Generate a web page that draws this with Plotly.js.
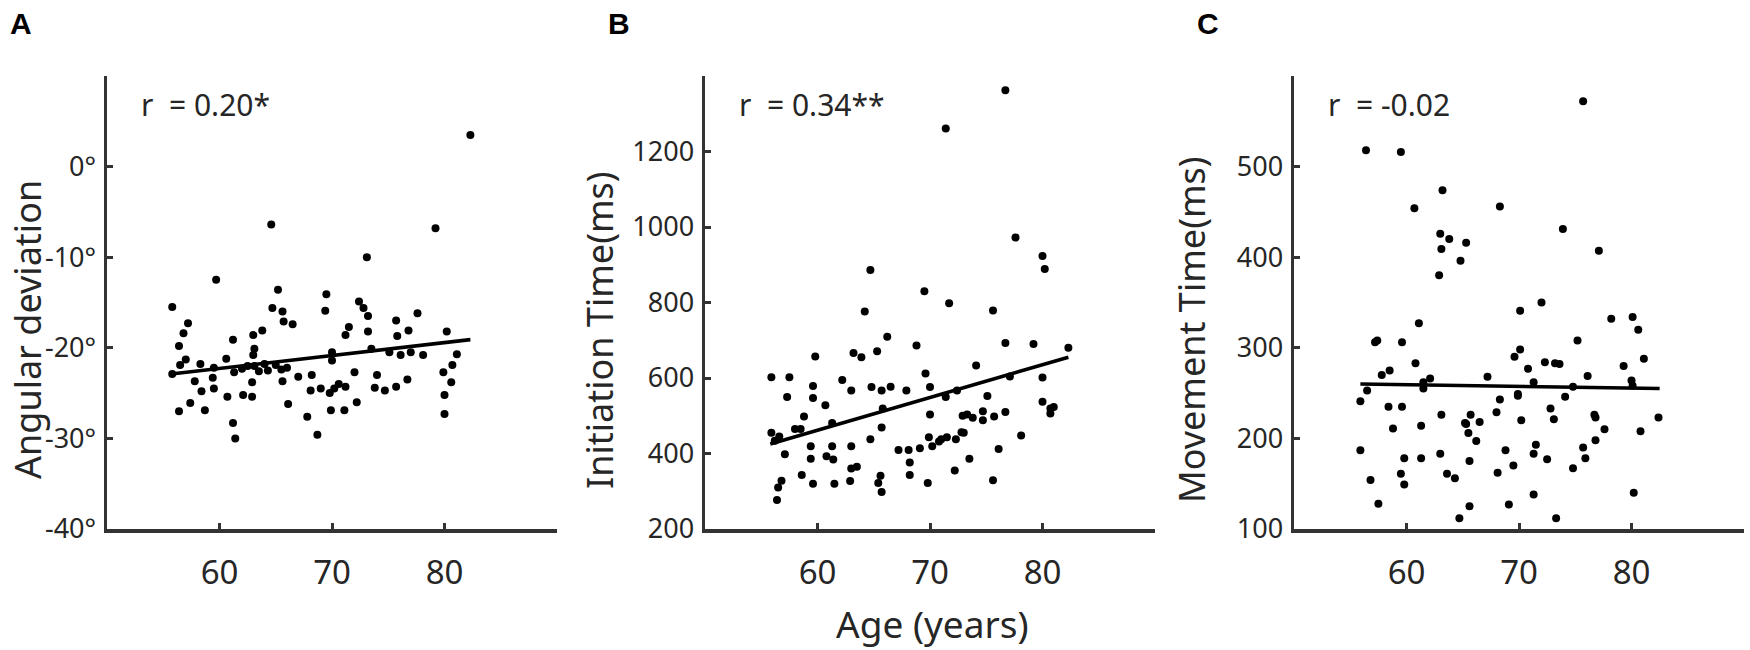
<!DOCTYPE html>
<html>
<head>
<meta charset="utf-8">
<script src="https://cdn.plot.ly/plotly-3.0.1.min.js"></script>
<style>
  html, body { margin: 0; padding: 0; background: #ffffff; }
  #chart { width: 1750px; height: 650px; }
</style>
</head>
<body>
<div id="chart"></div>
<script>
// Panel A: age vs angular deviation (degrees)
const ageA = [55.8, 55.8, 56.4, 56.4, 56.5, 56.8, 57.0, 57.2, 57.4, 57.8, 58.3, 58.4, 58.7, 59.4, 59.5,
  59.5, 59.7, 60.6, 60.7, 61.2, 61.2, 61.3, 61.4, 62.0, 62.1, 62.5, 62.9, 62.9, 63.0, 63.0,
  63.1, 63.1, 63.5, 63.8, 64.0, 64.3, 64.6, 64.7, 65.0, 65.2, 65.5, 65.6, 65.6, 65.7, 66.0,
  66.1, 66.5, 67.0, 67.8, 68.1, 68.2, 68.7, 69.0, 69.4, 69.5, 69.8, 69.9, 70.0, 70.0, 70.2,
  70.6, 71.1, 71.2, 71.2, 71.5, 72.0, 72.2, 72.4, 72.8, 73.1, 73.2, 73.2, 73.5, 73.8, 74.0,
  74.7, 75.1, 75.7, 75.7, 75.8, 76.1, 76.7, 76.8, 77.0, 77.6, 78.1, 79.2, 79.9, 80.0, 80.0,
  80.2, 80.6, 80.7, 81.1, 82.3];
const devA = [-15.5, -22.9, -19.8, -27.0, -21.9, -18.4, -21.3, -17.3, -26.1, -23.7, -21.8, -24.8, -26.9, -23.3, -22.2,
  -24.5, -12.5, -21.2, -25.4, -19.1, -28.3, -22.7, -30.0, -22.3, -25.2, -22.0, -23.8, -25.4, -18.6, -20.8,
  -20.1, -22.0, -22.6, -18.1, -21.8, -22.5, -6.4, -15.6, -21.9, -13.6, -22.4, -16.0, -23.7, -17.1, -22.2,
  -26.2, -17.4, -23.2, -27.6, -24.7, -23.0, -29.6, -24.5, -15.9, -14.1, -25.0, -26.9, -20.5, -21.4, -24.5,
  -24.0, -26.9, -24.3, -18.6, -17.7, -22.7, -26.0, -14.9, -15.6, -10.0, -16.5, -18.2, -20.1, -24.4, -23.0,
  -24.7, -20.5, -17.0, -24.3, -18.7, -20.8, -23.5, -18.1, -20.5, -16.2, -20.8, -6.8, -22.7, -25.2, -27.3,
  -18.2, -23.8, -21.9, -20.7, 3.5];
const fitAgeA = [55.7, 82.3];
const fitDevA = [-22.9, -19.1];

// Panel B: age vs initiation time (ms)
const ageB = [55.9, 57.5, 57.3, 55.9, 56.6, 56.2, 57.1, 56.8, 56.5, 56.4, 58.0, 58.5, 58.8, 58.6, 59.8,
  59.6, 59.6, 59.4, 59.4, 59.6, 60.7, 61.3, 61.3, 60.8, 61.4, 61.5, 62.2, 63.0, 63.2, 63.9,
  64.2, 64.7, 64.8, 64.7, 63.0, 63.0, 63.5, 62.9, 65.3, 66.2, 65.7, 66.5, 65.8, 65.7, 65.6,
  65.4, 65.7, 67.2, 67.9, 68.1, 68.2, 68.2, 68.8, 69.1, 69.5, 69.6, 70.0, 70.0, 69.9, 70.2,
  69.8, 70.8, 71.0, 71.5, 71.4, 71.4, 71.7, 72.2, 72.4, 72.3, 72.8, 72.9, 73.0, 73.3, 73.8,
  74.1, 73.5, 74.7, 74.7, 75.1, 75.6, 75.7, 75.6, 76.1, 76.7, 76.7, 76.7, 77.1, 77.6, 78.1,
  79.2, 80.0, 80.0, 80.0, 80.2, 80.7, 80.7, 81.0, 82.3];
const initB = [602, 602, 550, 455, 445, 434, 398, 328, 310, 277, 465, 465, 498, 343, 657,
  579, 547, 419, 386, 320, 528, 481, 419, 393, 384, 320, 595, 567, 666, 655,
  776, 886, 576, 438, 419, 360, 365, 327, 671, 709, 567, 577, 519, 469, 341,
  322, 298, 409, 567, 409, 376, 343, 686, 414, 830, 612, 576, 503, 443, 419,
  322, 432, 438, 443, 550, 1261, 798, 355, 567, 438, 456, 500, 455, 503, 495,
  633, 386, 512, 488, 552, 779, 498, 329, 412, 1362, 693, 510, 604, 972, 448,
  690, 923, 601, 537, 889, 519, 506, 523, 680];
const fitAgeB = [55.8, 82.3];
const fitInitB = [425, 655];

// Panel C: age vs movement time (ms)
const ageC = [56.4, 59.5, 60.7, 63.2, 63.0, 63.8, 65.3, 63.1, 64.8, 62.9, 61.1, 57.2, 57.4, 59.6, 60.8,
  58.5, 57.8, 56.5, 55.9, 61.5, 62.1, 61.5, 58.4, 59.6, 63.1, 58.8, 61.3, 65.3, 65.5, 55.9,
  59.8, 61.3, 63.0, 65.6, 56.8, 59.5, 59.8, 63.6, 64.3, 57.5, 64.7, 65.6, 75.7, 68.3, 73.9,
  77.1, 72.0, 70.1, 78.2, 80.1, 80.6, 75.2, 70.1, 69.6, 70.8, 72.3, 73.2, 73.6, 81.1, 79.3,
  67.2, 76.1, 71.3, 80.0, 80.1, 74.8, 69.9, 69.9, 68.3, 74.1, 72.8, 68.0, 65.7, 65.2, 66.5,
  66.2, 70.2, 73.1, 76.7, 76.8, 77.6, 82.4, 80.8, 76.8, 68.8, 71.5, 71.3, 72.5, 75.7, 75.9,
  74.8, 68.1, 69.5, 71.3, 80.2, 69.1, 73.3];
const moveC = [518, 516, 454, 474, 426, 420, 416, 409, 396, 380, 327, 306, 308, 306, 283,
  275, 270, 253, 241, 262, 266, 255, 235, 235, 226, 211, 214, 216, 206, 187,
  178, 178, 183, 175, 154, 161, 149, 161, 156, 128, 112, 125, 572, 456, 431,
  407, 350, 341, 332, 334, 320, 308, 298, 290, 277, 284, 283, 282, 288, 280,
  268, 269, 262, 264, 258, 257, 249, 247, 243, 246, 233, 229, 226, 217, 218,
  197, 220, 221, 226, 223, 210, 223, 208, 198, 187, 193, 183, 177, 190, 178,
  167, 162, 170, 138, 140, 127, 112];
const fitAgeC = [55.9, 82.5];
const fitMoveC = [260, 255];

// Axis ticks
const ageTicks = [60, 70, 80];
const devTicks = [-40, -30, -20, -10, 0];
const devTickText = ["-40°", "-30°", "-20°", "-10°", "0°"];
const initTicks = [200, 400, 600, 800, 1000, 1200];
const moveTicks = [100, 200, 300, 400, 500];

const FONT = "Noto Sans, Open Sans, sans-serif";
const TEXT = "#262626";
const AXIS = "#333333";
const Y_DOMAIN = [1 - 529 / 650, 1 - 76 / 650];

function px(x) { return x / 1750; }

function scatterTrace(x, y, axis) {
  return {
    type: "scatter", mode: "markers", x, y,
    xaxis: "x" + axis, yaxis: "y" + axis,
    marker: { color: "#000000", size: 8 },
    hoverinfo: "skip",
  };
}

function fitTrace(x, y, axis) {
  return {
    type: "scatter", mode: "lines", x, y,
    xaxis: "x" + axis, yaxis: "y" + axis,
    line: { color: "#000000", width: 3.6 },
    hoverinfo: "skip",
  };
}

function xAxis(left, anchor) {
  return {
    domain: [px(left), px(left + 450)],
    anchor,
    range: [50, 90],
    tickvals: ageTicks,
    ticks: "inside", ticklen: 6, tickwidth: 3, tickcolor: AXIS,
    showline: true, linewidth: 3.5, linecolor: AXIS,
    showgrid: false, zeroline: false,
    tickfont: { family: FONT, size: 33, color: TEXT },
    ticklabelstandoff: 12,
  };
}

function yAxis(range, tickvals, ticktext, anchor) {
  const ax = {
    domain: Y_DOMAIN,
    anchor,
    range,
    tickvals,
    ticks: "inside", ticklen: 6, tickwidth: 3, tickcolor: AXIS,
    showline: true, linewidth: 3.5, linecolor: AXIS,
    showgrid: false, zeroline: false,
    tickfont: { family: FONT, size: 27, color: TEXT },
    ticklabelstandoff: 2,
  };
  if (ticktext) ax.ticktext = ticktext;
  return ax;
}

function panelLetter(text, left) {
  return {
    text, xref: "paper", yref: "paper",
    x: px(left), y: 1 - 5 / 650, xanchor: "left", yanchor: "top",
    showarrow: false,
    font: { family: "Liberation Sans, Arial, sans-serif", size: 30, color: "#000000", weight: "bold" },
  };
}

function rLabel(text, axis) {
  return {
    text, xref: "x" + axis + " domain", yref: "y" + axis + " domain",
    x: 0.071, y: 0.936, xanchor: "left", yanchor: "middle",
    showarrow: false,
    font: { family: FONT, size: 30, color: TEXT },
  };
}

function yTitle(text, centerX) {
  return {
    text, xref: "paper", yref: "paper",
    x: px(centerX), y: 1 - 330 / 650, xanchor: "center", yanchor: "middle",
    textangle: -90, showarrow: false,
    font: { family: FONT, size: 36, color: TEXT },
  };
}

const data = [
  scatterTrace(ageA, devA, ""),
  fitTrace(fitAgeA, fitDevA, ""),
  scatterTrace(ageB, initB, "2"),
  fitTrace(fitAgeB, fitInitB, "2"),
  scatterTrace(ageC, moveC, "3"),
  fitTrace(fitAgeC, fitMoveC, "3"),
];

const layout = {
  width: 1750, height: 650,
  margin: { l: 0, r: 0, t: 0, b: 0 },
  paper_bgcolor: "#ffffff", plot_bgcolor: "#ffffff",
  showlegend: false,
  xaxis: xAxis(107, "y"),
  yaxis: yAxis([-40, 10], devTicks, devTickText, "x"),
  xaxis2: xAxis(705, "y2"),
  yaxis2: yAxis([200, 1400], initTicks, null, "x2"),
  xaxis3: xAxis(1294, "y3"),
  yaxis3: yAxis([100, 600], moveTicks, null, "x3"),
  annotations: [
    panelLetter("A", 8),
    panelLetter("B", 606),
    panelLetter("C", 1195),
    rLabel("r\u00a0 = 0.20*", ""),
    rLabel("r\u00a0 = 0.34**", "2"),
    rLabel("r\u00a0 = -0.02", "3"),
    yTitle("Angular deviation", 27),
    yTitle("Initiation Time(ms)", 599),
    yTitle("Movement Time(ms)", 1191),
    {
      text: "Age (years)", xref: "paper", yref: "paper",
      x: px(932), y: 1 - 623 / 650, xanchor: "center", yanchor: "middle",
      showarrow: false,
      font: { family: FONT, size: 37, color: TEXT },
    },
  ],
};

Plotly.newPlot("chart", data, layout, { staticPlot: true, displayModeBar: false });
</script>
</body>
</html>
